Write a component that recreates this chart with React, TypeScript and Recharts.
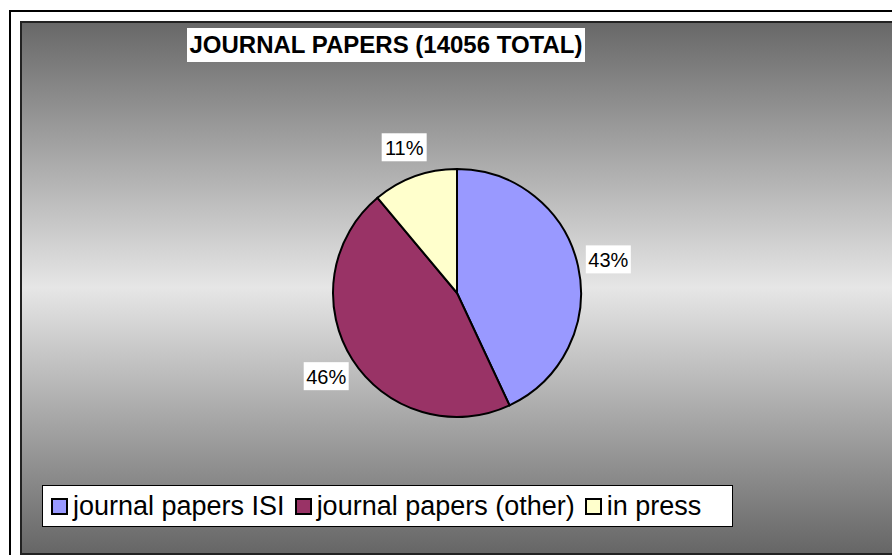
import { PieChart, Pie, Cell, Legend } from 'recharts';

// Journal papers split (14056 total)
const categories = ['journal papers ISI', 'journal papers (other)', 'in press'];
const paperCounts = [6050, 6450, 1556];
const sliceColors = ['#9999FF', '#993366', '#FFFFCC'];

const pieData = categories.map((name, i) => ({ name, value: paperCounts[i] }));

const FONT = '"Liberation Sans", Arial, sans-serif';
const RADIAN = Math.PI / 180;

const renderLabel = (props: any) => {
  const { cx, cy, midAngle, outerRadius, percent } = props;
  const r = outerRadius + 31;
  const x = cx + r * Math.cos(-midAngle * RADIAN);
  const y = cy + r * Math.sin(-midAngle * RADIAN);
  const w = 45;
  const h = 28;
  return (
    <g>
      <rect x={x - w / 2} y={y - h / 2} width={w} height={h} fill="#fff" />
      <text x={x} y={y + 1} textAnchor="middle" dominantBaseline="central" fontFamily={FONT} fontSize={20} fill="#000">
        {`${Math.round(percent * 100)}%`}
      </text>
    </g>
  );
};

const renderLegend = () => (
  <div
    style={{
      boxSizing: 'border-box',
      width: 691,
      height: 42,
      background: '#fff',
      border: '1px solid #000',
      display: 'flex',
      alignItems: 'center',
      paddingLeft: 8,
      fontFamily: FONT,
      fontSize: 27,
      color: '#000',
      whiteSpace: 'nowrap',
    }}
  >
    {categories.map((name, i) => (
      <div key={name} style={{ display: 'flex', alignItems: 'center', marginRight: 10 }}>
        <span
          style={{
            boxSizing: 'border-box',
            display: 'inline-block',
            width: 17,
            height: 17,
            background: sliceColors[i],
            border: '2px solid #000',
            marginRight: 5,
          }}
        />
        <span>{name}</span>
      </div>
    ))}
  </div>
);

const App = () => {
  return (
    <div style={{ position: 'absolute', left: 0, top: 0, width: 892, height: 555, overflow: 'hidden', background: '#fff' }}>
      {/* outer chart frame */}
      <div
        style={{
          position: 'absolute',
          left: 9,
          top: 10,
          width: 900,
          height: 560,
          border: '2px solid #000',
        }}
      />
      {/* plot area with grey gradient */}
      <div
        style={{
          position: 'absolute',
          left: 20,
          top: 21,
          width: 900,
          height: 530,
          borderTop: '2px solid #222',
          borderLeft: '2px solid #222',
          borderBottom: '2px solid #222',
          background: 'linear-gradient(to bottom, #686868 0%, #e6e6e6 50%, #666666 100%)',
        }}
      />
      <div style={{ position: 'absolute', left: 0, top: 0 }}>
        <PieChart width={892} height={555} margin={{ top: 0, right: 0, bottom: 0, left: 0 }}>
          <Pie
            data={pieData}
            dataKey="value"
            nameKey="name"
            cx={457}
            cy={293}
            outerRadius={124}
            startAngle={90}
            endAngle={-270}
            stroke="#000"
            strokeWidth={2}
            label={renderLabel}
            labelLine={false}
            isAnimationActive={false}
          >
            {pieData.map((d, i) => (
              <Cell key={d.name} fill={sliceColors[i]} stroke="#000" strokeWidth={2} />
            ))}
          </Pie>
          <Legend
            content={renderLegend}
            verticalAlign="bottom"
            align="left"
            wrapperStyle={{ left: 42, top: 485, bottom: 'auto', width: 'auto' }}
          />
        </PieChart>
      </div>
      {/* title */}
      <div
        style={{
          position: 'absolute',
          left: 187,
          top: 28,
          width: 398,
          height: 34,
          background: '#fff',
          fontFamily: FONT,
          fontWeight: 'bold',
          fontSize: 24,
          lineHeight: '34px',
          textAlign: 'center',
          color: '#000',
          whiteSpace: 'nowrap',
        }}
      >
        JOURNAL PAPERS (14056 TOTAL)
      </div>
    </div>
  );
};

export default App;
